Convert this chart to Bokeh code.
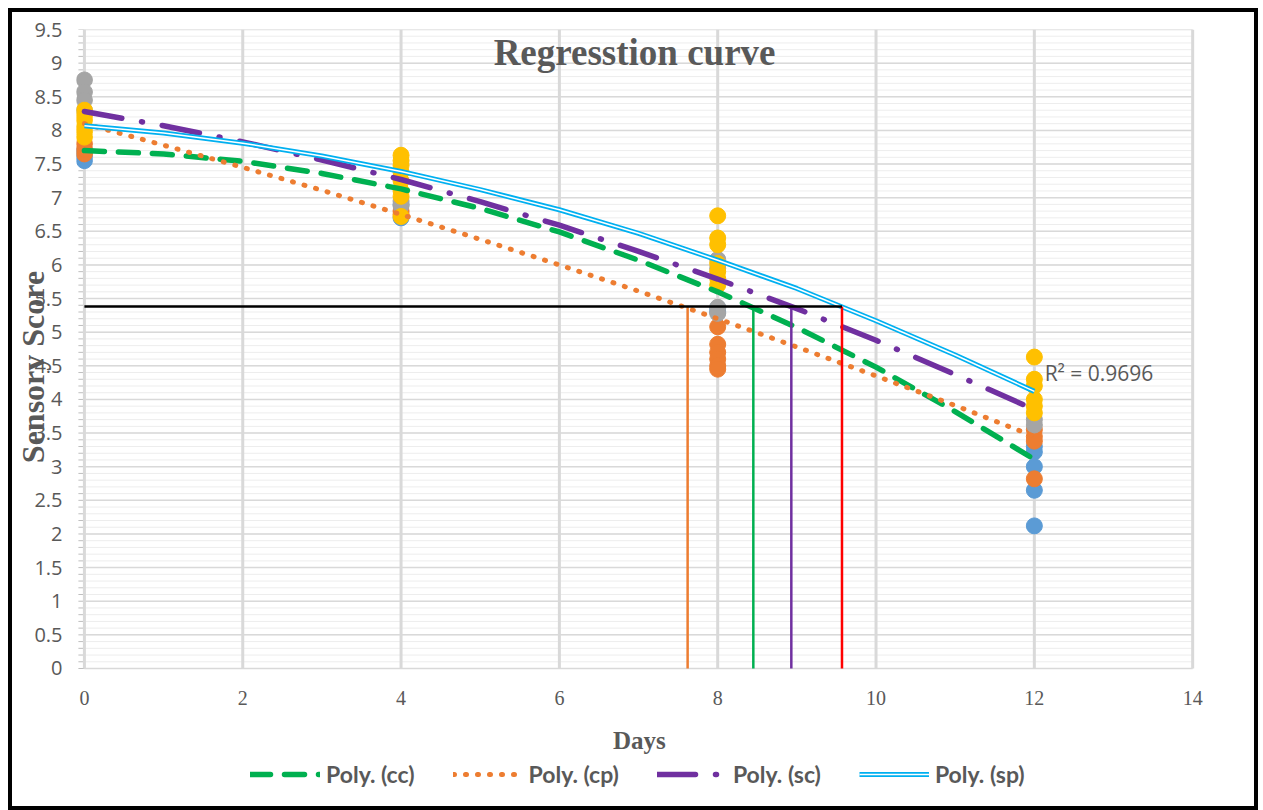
from bokeh.plotting import figure
from bokeh.models import (Range1d, FixedTicker, CustomJSTickFormatter, Label,
                          Legend, LegendItem)
from bokeh.embed import file_html
from bokeh.resources import INLINE

# ---------------- data ----------------
cc_days = [0, 0, 0, 4, 4, 8, 8, 12, 12, 12, 12, 12]
cc_score = [7.55, 7.62, 7.70, 6.70, 6.90, 5.30, 5.36, 3.30, 3.22, 3.00, 2.65, 2.12]

cp_days = [0, 0, 0, 4, 4, 8, 8, 8, 8, 8, 8, 12, 12, 12, 12]
cp_score = [7.65, 7.72, 7.80, 6.75, 6.80, 5.08, 4.82, 4.70, 4.60, 4.50, 4.45, 3.55, 3.45, 3.38, 2.82]

sc_days = [0, 0, 0, 0, 4, 4, 8, 8, 8, 8, 12, 12]
sc_score = [8.75, 8.57, 8.45, 8.30, 6.95, 6.88, 6.08, 5.95, 5.37, 5.28, 3.70, 3.62]

sp_days = [0, 0, 0, 0, 0, 0, 4, 4, 4, 4, 4, 4, 4, 4, 8, 8, 8, 8, 8, 8, 8, 12, 12, 12, 12, 12, 12]
sp_score = [8.30, 8.22, 8.15, 8.05, 7.98, 7.90, 7.63, 7.55, 7.48, 7.38, 7.25, 7.10, 7.02, 6.72,
            6.73, 6.40, 6.30, 6.02, 5.90, 5.80, 5.70, 4.63, 4.30, 4.20, 4.00, 3.90, 3.80]

# polynomial trendlines at each day
trend_days = [0, 1, 2, 3, 4, 5, 6, 7, 8, 9, 10, 11, 12]
cc_trend = [7.70, 7.65, 7.54, 7.36, 7.13, 6.84, 6.49, 6.07, 5.60, 5.07, 4.48, 3.82, 3.11]
cp_trend = [8.10, 7.78, 7.45, 7.11, 6.75, 6.38, 6.00, 5.61, 5.20, 4.78, 4.35, 3.91, 3.45]
sc_trend = [8.28, 8.07, 7.83, 7.56, 7.27, 6.94, 6.59, 6.20, 5.79, 5.35, 4.88, 4.37, 3.85]
sp_trend = [8.07, 7.96, 7.81, 7.62, 7.39, 7.12, 6.82, 6.47, 6.07, 5.65, 5.17, 4.66, 4.12]

threshold = 5.38
cut_days = [7.62, 8.45, 8.93, 9.57]
cut_colors = ["#ED7D31", "#00B050", "#7030A0", "#FF0000"]

x_ticks = [0, 2, 4, 6, 8, 10, 12, 14]
x_tick_labels = [str(t) for t in x_ticks]
y_max = 9.5
y_ticks = [i * 0.5 for i in range(20)]
y_minor = [round(i * 0.1, 1) for i in range(96)]

legend_labels = ["Poly. (cc)", "Poly. (cp)", "Poly. (sc)", "Poly. (sp)"]
r2_text = "R\u00b2 = 0.9696"

# ---------------- figure ----------------
# the plotting frame is extended around the 0-14 x 0-9.5 area so the axis texts
# and legend sit inside it
p = figure(frame_width=1132, frame_height=771, output_backend="svg", toolbar_location=None,
           x_range=Range1d(-0.1, 14.2), y_range=Range1d(-1.9625, y_max),
           x_axis_location=None,
           min_border_left=62, min_border_right=46, min_border_top=17,
           min_border_bottom=6)
p.outline_line_color = None
p.background_fill_color = "white"
p.border_fill_color = "white"
p.styles = {"border": "4px solid black", "margin": "8px 0px 0px 8px"}

# grids
p.xgrid.visible = False
p.ygrid.visible = False
p.segment(x0=[0] * len(y_minor), y0=y_minor, x1=[14] * len(y_minor), y1=y_minor,
          line_color="#EDEDED", line_width=1)
p.segment(x0=[0] * len(y_ticks), y0=y_ticks, x1=[14] * len(y_ticks), y1=y_ticks,
          line_color="#D9D9D9", line_width=1.5)
p.segment(x0=[-0.076] * len(y_minor), y0=y_minor, x1=[0] * len(y_minor), y1=y_minor,
          line_color="#BFBFBF", line_width=1)
p.segment(x0=x_ticks, y0=[0] * len(x_ticks), x1=x_ticks, y1=[y_max] * len(x_ticks),
          line_color="#D9D9D9", line_width=3)

# y axis
fmt = CustomJSTickFormatter(code="return tick.toString();")
p.yaxis.ticker = FixedTicker(ticks=y_ticks)
p.yaxis.formatter = fmt
p.yaxis.axis_line_color = None
p.yaxis.major_label_text_font = "Open Sans"
p.yaxis.major_label_text_font_size = "20px"
p.yaxis.major_label_text_color = "#595959"
p.yaxis.major_tick_line_color = None
p.yaxis.minor_tick_line_color = None
p.yaxis.major_tick_out = 0
p.yaxis.major_tick_in = 0
p.yaxis.minor_tick_out = 0
p.yaxis.minor_tick_in = 0
p.yaxis.major_label_standoff = 14
p.yaxis.axis_label = "\u00a0" * 12 + "Sensory Score"
p.yaxis.axis_label_text_font = "Liberation Serif"
p.yaxis.axis_label_text_font_style = "bold"
p.yaxis.axis_label_text_color = "#595959"
p.yaxis.axis_label_text_font_size = "32px"
p.yaxis.axis_label_standoff = -20

# x tick labels
p.text(x=x_ticks, y=[-0.446] * len(x_ticks), text=x_tick_labels, text_font="Open Sans",
       text_font_size="20px", text_color="#595959", text_align="center",
       text_baseline="middle")

# scatter series
p.scatter(cc_days, cc_score, size=16, color="#5B9BD5")
p.scatter(cp_days, cp_score, size=16, color="#ED7D31")
p.scatter(sc_days, sc_score, size=16, color="#A5A5A5")
p.scatter(sp_days, sp_score, size=16, color="#FFC000")

# trendlines
r_cc = p.line(trend_days, cc_trend, line_color="#00B050", line_width=5.5,
              line_dash="20 14", line_cap="round")
r_cp = p.line(trend_days, cp_trend, line_color="#ED7D31", line_width=5,
              line_dash="1 11", line_cap="round")
r_sc = p.line(trend_days, sc_trend, line_color="#7030A0", line_width=5.5,
              line_dash="38 20 1 20", line_cap="round")
r_sp1 = p.line(trend_days, sp_trend, line_color="#00B0F0", line_width=5)
r_sp2 = p.line(trend_days, sp_trend, line_color="white", line_width=1.5)

# reference lines
p.segment(x0=cut_days, y0=[0] * len(cut_days), x1=cut_days,
          y1=[threshold] * len(cut_days), line_color=cut_colors, line_width=2.5)
p.segment(x0=[0], y0=[threshold], x1=[max(cut_days)], y1=[threshold],
          line_color="black", line_width=2.5)

# texts
p.add_layout(Label(x=6.95, y=9.16, text="Regresstion curve", text_font="Liberation Serif",
                   text_font_style="bold", text_font_size="37px", text_color="#595959",
                   text_align="center", text_baseline="middle"))
p.add_layout(Label(x=12.13, y=4.39, text=r2_text, text_font="Open Sans",
                   text_font_size="21px", text_color="#595959",
                   text_align="left", text_baseline="middle"))
p.add_layout(Label(x=7.01, y=-1.07, text="Days", text_font="Liberation Serif",
                   text_font_style="bold", text_font_size="25px", text_color="#595959",
                   text_align="center", text_baseline="middle"))

# legend
legend = Legend(items=[
    LegendItem(label=legend_labels[0], renderers=[r_cc]),
    LegendItem(label=legend_labels[1], renderers=[r_cp]),
    LegendItem(label=legend_labels[2], renderers=[r_sc]),
    LegendItem(label=legend_labels[3], renderers=[r_sp1, r_sp2]),
], orientation="horizontal", location=(174, 12), glyph_width=70, glyph_height=20,
    label_height=20, label_standoff=6, spacing=38, padding=0, margin=0,
    label_text_font="Lato", label_text_font_style="bold", label_text_font_size="23px",
    label_text_color="#595959", border_line_color=None, background_fill_alpha=0)
p.add_layout(legend, "center")

open("out.html", "w").write(file_html(p, INLINE))
